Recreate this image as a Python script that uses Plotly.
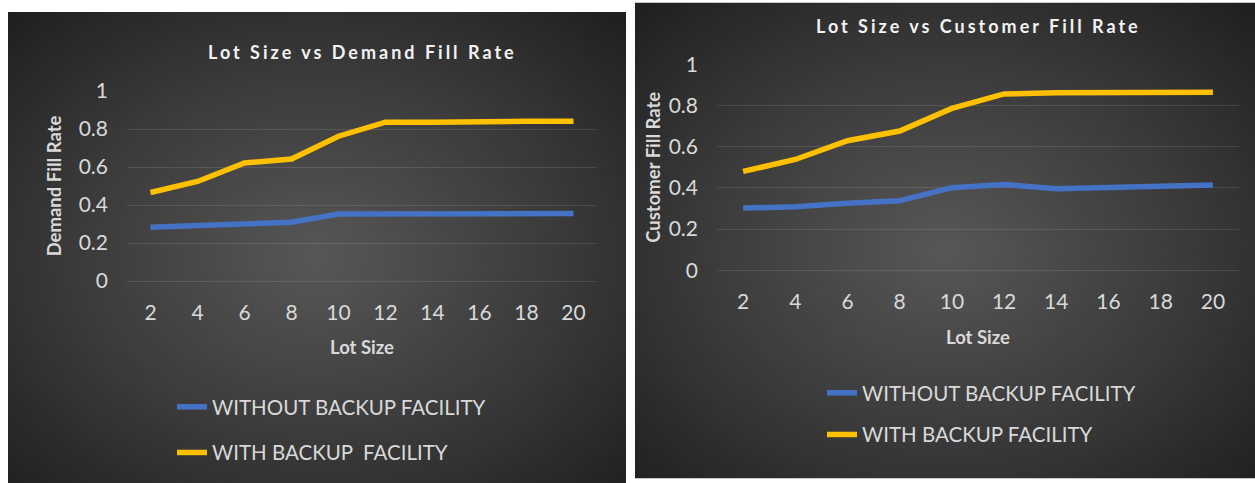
import base64
import plotly.graph_objects as go

# Lot sizes shown on the category axis
lot_sizes = ["2", "4", "6", "8", "10", "12", "14", "16", "18", "20"]

# Demand fill rate by lot size
demand_without_backup = [0.283, 0.292, 0.300, 0.309, 0.353, 0.352, 0.357, 0.355, 0.355, 0.355]
demand_with_backup = [0.466, 0.524, 0.621, 0.642, 0.762, 0.836, 0.836, 0.841, 0.841, 0.841]

# Customer fill rate by lot size
customer_without_backup = [0.302, 0.308, 0.325, 0.338, 0.401, 0.417, 0.396, 0.402, 0.414, 0.414]
customer_with_backup = [0.480, 0.538, 0.629, 0.676, 0.786, 0.856, 0.862, 0.862, 0.862, 0.864]

y_ticks = [0, 0.2, 0.4, 0.6, 0.8, 1]
y_tick_text = ["0", "0.2", "0.4", "0.6", "0.8", "1"]

W, H = 1255, 483
BLUE = "#4472C4"
GOLD = "#FFC000"
FONT = "Lato, 'Open Sans', sans-serif"
TICK_COLOR = "#d9d9d9"
GRID = "rgba(255,255,255,0.11)"


def px_x(p):
    return p / W


def px_y(p):
    return 1 - p / H


def card_background(w, h):
    # Dark card with a soft radial highlight in the middle
    svg = (
        f'<svg xmlns="http://www.w3.org/2000/svg" width="{w}" height="{h}" '
        f'viewBox="0 0 {w} {h}" preserveAspectRatio="none">'
        '<defs><radialGradient id="g" cx="50%" cy="52%" r="72%">'
        '<stop offset="0" stop-color="#575757"/>'
        '<stop offset="0.55" stop-color="#3a3a3a"/>'
        '<stop offset="1" stop-color="#1f1f1f"/>'
        '</radialGradient></defs>'
        f'<rect width="{w}" height="{h}" fill="url(#g)"/></svg>'
    )
    return "data:image/svg+xml;base64," + base64.b64encode(svg.encode()).decode()


fig = go.Figure()

panels = [
    dict(xa="x", ya="y", legend="legend",
         without=demand_without_backup, with_=demand_with_backup,
         with_name="WITH BACKUP  FACILITY"),
    dict(xa="x2", ya="y2", legend="legend2",
         without=customer_without_backup, with_=customer_with_backup,
         with_name="WITH BACKUP FACILITY"),
]

for p in panels:
    fig.add_trace(go.Scatter(
        x=lot_sizes, y=p["without"], mode="lines", name="WITHOUT BACKUP FACILITY",
        line=dict(color=BLUE, width=5.5), xaxis=p["xa"], yaxis=p["ya"],
        legend=p["legend"], legendgroup=p["legend"] + "a", hoverinfo="skip",
    ))
    fig.add_trace(go.Scatter(
        x=lot_sizes, y=p["with_"], mode="lines", name=p["with_name"],
        line=dict(color=GOLD, width=5.5), xaxis=p["xa"], yaxis=p["ya"],
        legend=p["legend"], legendgroup=p["legend"] + "b", hoverinfo="skip",
    ))

axis_common_x = dict(
    type="category", categoryorder="array", categoryarray=lot_sizes,
    range=[-0.5, 9.5], showgrid=False, zeroline=False, showline=False,
    ticks="", tickfont=dict(family=FONT, size=21, color=TICK_COLOR),
    ticklabelstandoff=17, automargin=False,
    title=dict(text="<b>Lot Size</b>", font=dict(family=FONT, size=18.5, color=TICK_COLOR),
               standoff=18),
)
axis_common_y = dict(
    range=[0, 1], tickvals=y_ticks, ticktext=y_tick_text, showgrid=True,
    gridcolor=GRID, gridwidth=1, zeroline=True, zerolinecolor=GRID, zerolinewidth=1,
    showline=False, ticks="", tickfont=dict(family=FONT, size=21, color=TICK_COLOR),
    ticklabelstandoff=18, automargin=False,
)

fig.update_layout(
    width=W, height=H,
    margin=dict(l=0, r=0, t=0, b=0, autoexpand=False),
    paper_bgcolor="white", plot_bgcolor="rgba(0,0,0,0)",
    showlegend=True,
    xaxis=dict(domain=[px_x(127), px_x(597)], anchor="y", **axis_common_x),
    yaxis=dict(domain=[px_y(281), px_y(91)], anchor="x", **axis_common_y,
               title=dict(text="<b>Demand Fill Rate</b>",
                          font=dict(family=FONT, size=18.5, color=TICK_COLOR), standoff=12)),
    xaxis2=dict(domain=[px_x(717), px_x(1239)], anchor="y2", **axis_common_x),
    yaxis2=dict(domain=[px_y(270.3), px_y(64.3)], anchor="x2", **axis_common_y,
                title=dict(text="<b>Customer Fill Rate</b>",
                           font=dict(family=FONT, size=18.5, color=TICK_COLOR), standoff=3)),
    legend=dict(
        x=px_x(172), y=px_y(387), xanchor="left", yanchor="top",
        bgcolor="rgba(0,0,0,0)", font=dict(family=FONT, size=20.5, color=TICK_COLOR),
        traceorder="grouped", tracegroupgap=16, itemwidth=30,
    ),
    legend2=dict(
        x=px_x(822), y=px_y(373), xanchor="left", yanchor="top",
        bgcolor="rgba(0,0,0,0)", font=dict(family=FONT, size=20.5, color=TICK_COLOR),
        traceorder="grouped", tracegroupgap=12, itemwidth=30,
    ),
    images=[
        dict(source=card_background(618, 471), xref="paper", yref="paper",
             x=px_x(8), y=px_y(12), sizex=(626 - 8) / W, sizey=(H - 12) / H,
             xanchor="left", yanchor="top", sizing="stretch", layer="below"),
        dict(source=card_background(620, 476), xref="paper", yref="paper",
             x=px_x(635), y=px_y(2.5), sizex=(W - 635) / W, sizey=(478.5 - 2.5) / H,
             xanchor="left", yanchor="top", sizing="stretch", layer="below"),
    ],
    annotations=[
        dict(text='<b><span style="letter-spacing:3px">Lot Size vs Demand Fill Rate</span></b>',
             xref="x domain", yref="paper", x=0.5, y=px_y(52), xanchor="center",
             yanchor="middle", showarrow=False,
             font=dict(family=FONT, size=18, color="#f2f2f2")),
        dict(text='<b><span style="letter-spacing:3px">Lot Size vs Customer Fill Rate</span></b>',
             xref="x2 domain", yref="paper", x=0.5, y=px_y(26), xanchor="center",
             yanchor="middle", showarrow=False,
             font=dict(family=FONT, size=18, color="#f2f2f2")),
    ],
)

fig.write_html("out.html")
